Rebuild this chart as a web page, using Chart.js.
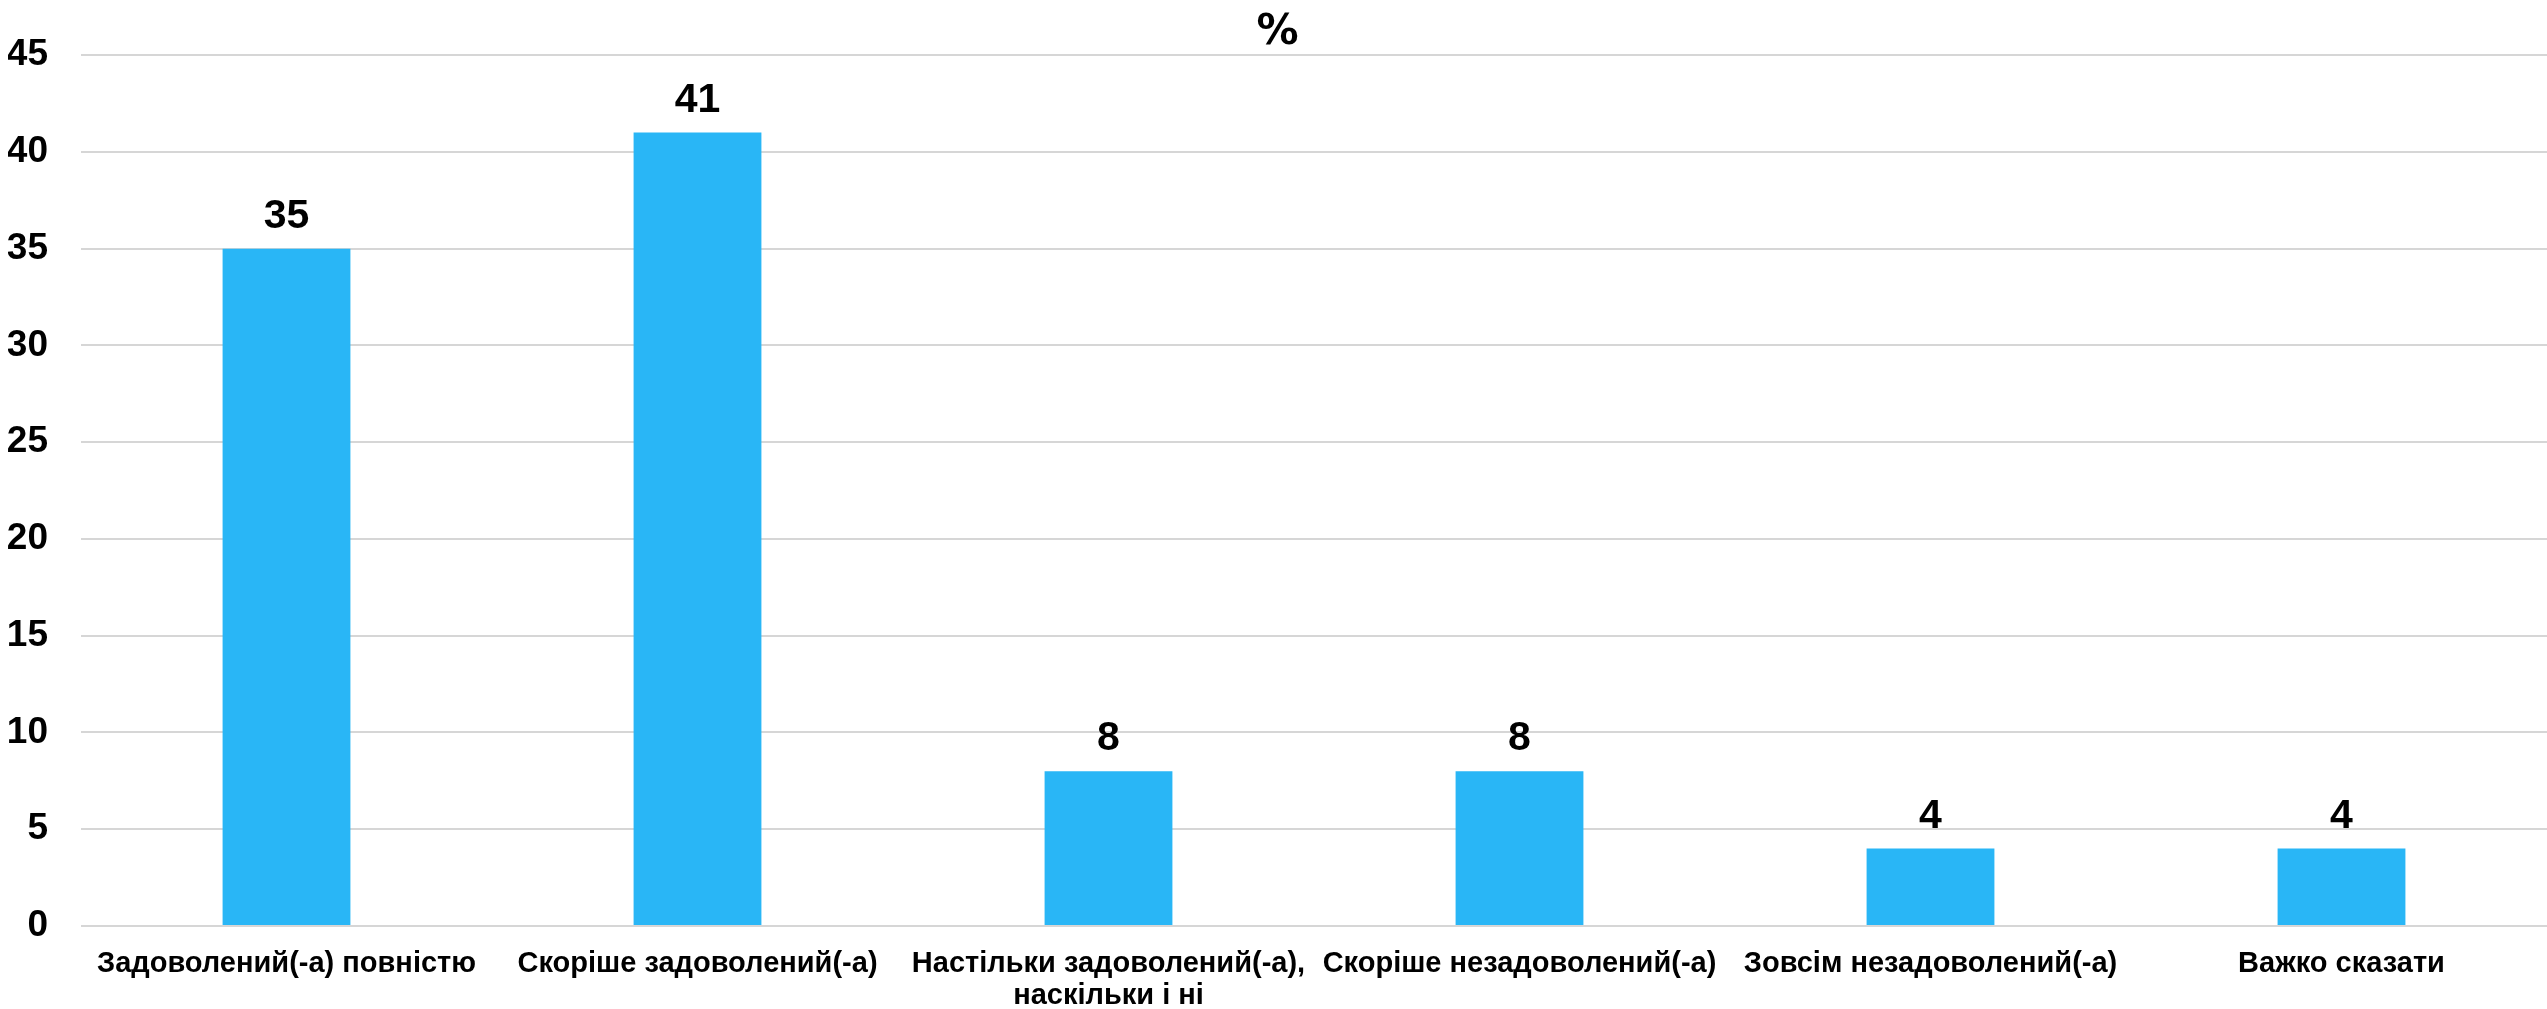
<!DOCTYPE html>
<html lang="uk">
<head>
<meta charset="utf-8">
<title>%</title>
<script src="https://cdn.jsdelivr.net/npm/chart.js@4/dist/chart.umd.min.js"></script>
<style>
  html, body { margin: 0; padding: 0; background: #ffffff; }
  #wrap { position: relative; width: 2547px; height: 1009px; }
</style>
</head>
<body>
<div id="wrap"><canvas id="chart"></canvas></div>
<script>
/*************************************************************
 * Data
 *************************************************************/
const categories = [
  "Задоволений(-а) повністю",
  "Скоріше задоволений(-а)",
  ["Настільки задоволений(-а),", "наскільки і ні"],
  "Скоріше незадоволений(-а)",
  "Зовсім незадоволений(-а)",
  "Важко сказати",
];
const values = [35, 41, 8, 8, 4, 4];
const yTicks = [0, 5, 10, 15, 20, 25, 30, 35, 40, 45];
const chartTitle = "%";

const BAR_COLOR = "#29b6f6";
const GRID_COLOR = "#d6d6d6";
const FONT = "'Liberation Sans', Arial, sans-serif";

/*************************************************************
 * Value labels above bars
 *************************************************************/
const valueLabels = {
  id: "valueLabels",
  afterDatasetsDraw: (chart) => {
    const ctx = chart.ctx;
    const meta = chart.getDatasetMeta(0);

    ctx.save();
    ctx.font = `bold 41px ${FONT}`;
    ctx.fillStyle = "#000000";
    ctx.textAlign = "center";
    ctx.textBaseline = "alphabetic";

    meta.data.forEach((bar, i) => {
      ctx.fillText(String(values[i]), bar.x, bar.y - 21);
    });

    ctx.restore();
  },
};

/*************************************************************
 * Chart
 *************************************************************/
const ctx = document.getElementById("chart").getContext("2d");

new Chart(ctx, {
  type: "bar",
  data: {
    labels: categories,
    datasets: [
      {
        data: values,
        backgroundColor: BAR_COLOR,
        borderWidth: 0,
        categoryPercentage: 1,
        barPercentage: 0.311,
      },
    ],
  },
  options: {
    animation: false,
    responsive: true,
    maintainAspectRatio: false,
    devicePixelRatio: 1,
    layout: {
      padding: { left: 8, right: 0, top: 0, bottom: 2 },
    },
    plugins: {
      legend: { display: false },
      tooltip: { enabled: false },
      title: {
        display: true,
        text: chartTitle,
        color: "#000000",
        font: { family: "'DejaVu Sans', sans-serif", size: 42, weight: "bold", lineHeight: 1.05 },
        padding: { top: 10, bottom: 0 },
      },
    },
    scales: {
      x: {
        grid: { display: false },
        border: { display: false },
        afterFit: (scale) => {
          scale.height = 81;
        },
        ticks: {
          color: "#000000",
          maxRotation: 0,
          autoSkip: false,
          padding: 14,
          font: { family: FONT, size: 29, weight: "bold", lineHeight: 1.1 },
        },
      },
      y: {
        min: yTicks[0],
        max: yTicks[yTicks.length - 1],
        afterBuildTicks: (scale) => {
          scale.ticks = yTicks.map((v) => ({ value: v }));
        },
        afterFit: (scale) => {
          scale.width = 73;
        },
        grid: {
          color: GRID_COLOR,
          lineWidth: 2,
          drawTicks: false,
        },
        border: { display: false },
        ticks: {
          color: "#000000",
          padding: 33,
          font: { family: FONT, size: 37, weight: "bold" },
        },
      },
    },
  },
  plugins: [valueLabels],
});
</script>
</body>
</html>
